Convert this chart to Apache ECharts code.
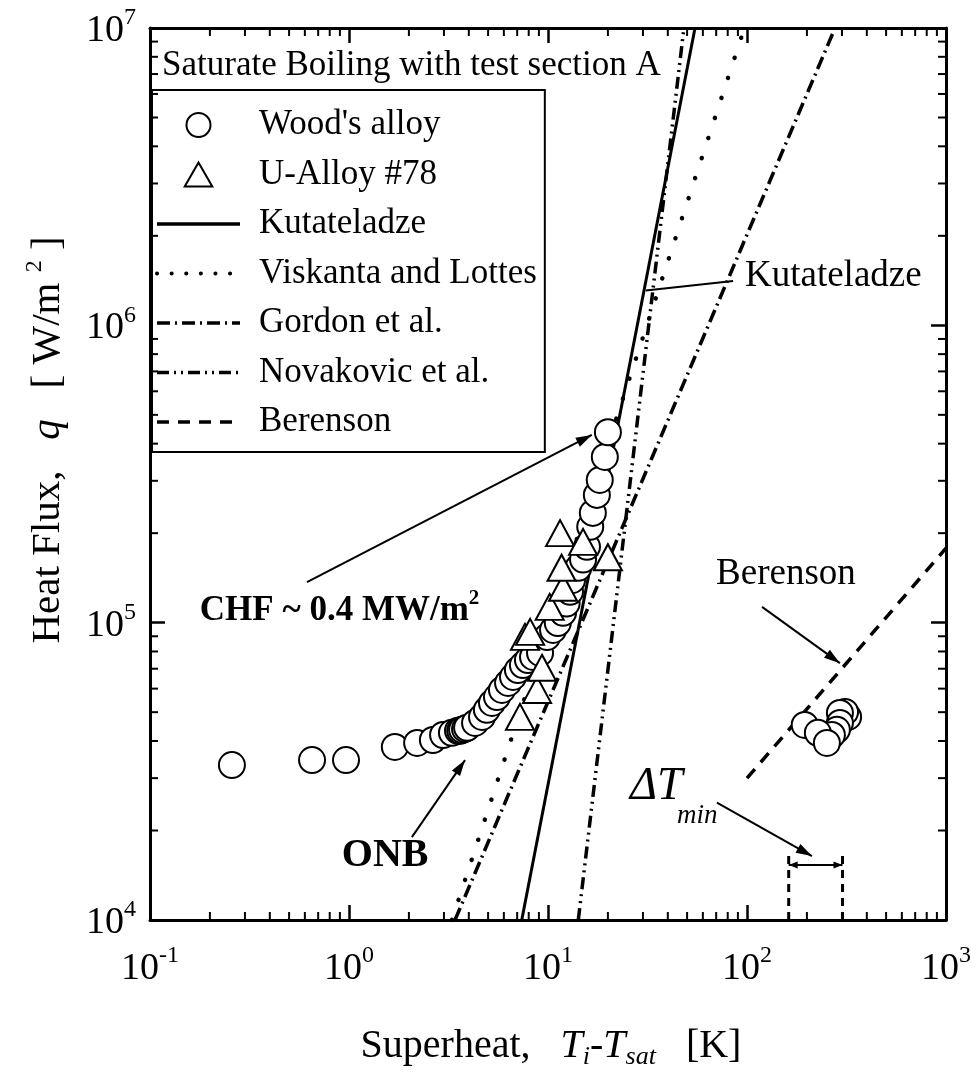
<!DOCTYPE html>
<html><head><meta charset="utf-8">
<script src="https://cdn.jsdelivr.net/npm/echarts@6/dist/echarts.min.js"></script>
<style>html,body{margin:0;padding:0;background:#fff}#c{width:977px;height:1084px}</style>
</head><body><div id="c"></div>
<script>
const FONT = '"Liberation Serif","Times New Roman",serif';

// ---- tick labels (exponents of 10) ----
const xTickExps = [-1, 0, 1, 2, 3];
const yTickExps = [4, 5, 6, 7];

// ---- Wood's alloy (circles) ----
const woodX = [0.258, 0.652, 0.966, 1.70, 2.20, 2.64, 2.97, 3.29, 3.53, 3.62, 3.70, 3.83, 3.92, 4.30, 4.66, 4.93, 5.23, 5.54, 5.87, 6.30, 6.67, 7.06, 7.48, 7.93, 8.41, 9.12, 9.89, 10.6, 11.2, 11.9, 12.4, 12.9, 13.2, 14.2, 15.0, 15.7, 16.3, 16.8, 17.6, 18.2, 19.3, 20.0, 195, 322, 311, 293, 293, 283, 267, 227, 252];
const woodY = [33200, 34500, 34500, 38200, 39400, 40300, 41900, 42600, 43300, 43300, 43600, 43900, 44300, 46000, 48200, 50900, 53700, 56200, 59400, 62700, 65700, 69300, 72000, 74900, 76700, 79100, 89500, 94500, 99700, 108000, 116000, 127000, 139000, 153000, 163000, 180000, 210000, 234000, 269000, 302000, 361000, 437000, 45300, 48200, 50100, 49700, 46000, 43600, 41900, 42600, 39400];

// ---- U-Alloy #78 (triangles) ----
const uX = [7.23, 8.81, 9.33, 7.66, 8.13, 10.2, 11.9, 11.7, 11.5, 15.0, 20.0];
const uY = [48200, 59400, 70500, 89600, 93100, 113000, 131000, 153000, 200000, 187000, 166000];

// ---- correlations (end points) ----
const kutX = [7.38, 54.8];  const kutY = [1e4, 1e7];
const visX = [3.29, 97];    const visY = [1e4, 1e7];
const gorX = [3.41, 277];   const gorY = [1e4, 1e7];
const novX = [14.2, 48.2];  const novY = [1e4, 1e7];
const berX = [100, 1000];   const berY = [30000, 178000];

// ---- Delta T_min bracket ----
const dtX = [162, 302];  const dtTopY = 16600;  const dtArrowY = 15300;

const zip = (a, b) => a.map((v, i) => [v, b[i]]);
const names = ["Wood's alloy", 'U-Alloy #78', 'Kutateladze', 'Viskanta and Lottes', 'Gordon et al.', 'Novakovic et al.', 'Berenson'];

// minor tick positions (2..9 x 10^k)
const minorX = [], minorY = [];
for (let k = -1; k <= 2; k++) for (let m = 2; m <= 9; m++) minorX.push([m * Math.pow(10, k), 1e4]);
for (let k = 4; k <= 6; k++) for (let m = 2; m <= 9; m++) minorY.push([1, m * Math.pow(10, k)]);

const chart = echarts.init(document.getElementById('c'), null, {renderer: 'canvas'});

const supRich = {
  b: {fontFamily: FONT, fontSize: 38, color: '#000', lineHeight: 44, verticalAlign: 'bottom'},
  s: {fontFamily: FONT, fontSize: 24, color: '#000', lineHeight: 16, verticalAlign: 'top'}
};
function makeFmt(exps) {
  return function (v) {
    const e = Math.round(Math.log10(v));
    return exps.indexOf(e) >= 0 ? '{b|10}{s|' + e + '}' : '';
  };
}
function axisBase(extra) {
  return Object.assign({
    type: 'log', logBase: 10,
    axisLine: {show: true, onZero: false, lineStyle: {color: '#000', width: 3}},
    axisTick: {show: true, inside: true, length: 15, lineStyle: {color: '#000', width: 2.5}},
    splitLine: {show: false}, minorTick: {show: false}, minorSplitLine: {show: false}
  }, extra);
}
function lineSeries(name, xs, ys, style) {
  return {
    name, type: 'line', data: zip(xs, ys), symbol: 'none', showSymbol: false,
    lineStyle: Object.assign({color: '#000', width: 3.5}, style),
    itemStyle: {color: '#000'}, z: 2, silent: true, clip: true, animation: false
  };
}
function tickRender(dim) {
  return function (params, api) {
    const cs = params.coordSys;
    const st = {stroke: '#000', lineWidth: 2};
    if (dim === 'x') {
      const x = api.coord([api.value(0), api.value(1)])[0];
      const yb = cs.y + cs.height, yt = cs.y;
      return {type: 'group', children: [
        {type: 'line', shape: {x1: x, y1: yb, x2: x, y2: yb - 8}, style: st},
        {type: 'line', shape: {x1: x, y1: yt, x2: x, y2: yt + 8}, style: st}
      ]};
    } else {
      const y = api.coord([api.value(0), api.value(1)])[1];
      const xl = cs.x, xr = cs.x + cs.width;
      return {type: 'group', children: [
        {type: 'line', shape: {x1: xl, y1: y, x2: xl + 8, y2: y}, style: st},
        {type: 'line', shape: {x1: xr, y1: y, x2: xr - 8, y2: y}, style: st}
      ]};
    }
  };
}

const legendData = names.map((n, i) => {
  if (i === 0) return {name: n};
  if (i === 1) return {name: n, icon: 'path://M5,0L10,8.7L0,8.7Z'};
  if (i === 3) return {name: n, itemStyle: {opacity: 0}, lineStyle: {type: [0.1, 14.5], cap: 'round', width: 4}};
  return {name: n, itemStyle: {opacity: 0}};
});

const option = {
  backgroundColor: '#fff',
  animation: false,
  grid: {left: 150, right: 31, top: 28, bottom: 164, containLabel: false, outerBoundsMode: 'none'},
  xAxis: [
    axisBase({min: 0.1, max: 1000, position: 'bottom',
      axisLabel: {show: true, margin: 24, formatter: makeFmt(xTickExps), rich: supRich, showMinLabel: true, showMaxLabel: true}}),
    axisBase({min: 0.1, max: 1000, position: 'top', axisLabel: {show: false}})
  ],
  yAxis: [
    axisBase({min: 1e4, max: 1e7, position: 'left',
      axisLabel: {show: true, margin: 14, formatter: makeFmt(yTickExps), rich: supRich, showMinLabel: true, showMaxLabel: true}}),
    axisBase({min: 1e4, max: 1e7, position: 'right', axisLabel: {show: false}})
  ],
  legend: {
    show: true, orient: 'vertical', left: 152, top: 90,
    data: legendData, selectedMode: false, symbolKeepAspect: true,
    itemWidth: 83, itemHeight: 24, itemGap: 13.5,
    padding: [17, 8, 12, 3],
    borderColor: '#000', borderWidth: 2, backgroundColor: '#fff',
    lineStyle: {width: 3.5},
    textStyle: {fontFamily: FONT, fontSize: 35, color: '#000', lineHeight: 36, padding: [0, 0, 0, 14]}
  },
  series: [
    {name: names[0], type: 'scatter', data: zip(woodX, woodY), symbol: 'circle', symbolSize: 26, symbolKeepAspect: true,
      itemStyle: {color: '#fff', borderColor: '#000', borderWidth: 2, opacity: 1}, z: 4, silent: true},
    {name: names[1], type: 'scatter', data: zip(uX, uY), symbol: 'triangle', symbolSize: [28, 26], symbolKeepAspect: true,
      itemStyle: {color: '#fff', borderColor: '#000', borderWidth: 2, opacity: 1}, z: 5, silent: true},
    lineSeries(names[2], kutX, kutY, {type: 'solid', width: 3}),
    lineSeries(names[3], visX, visY, {type: [0.1, 21], cap: 'round', width: 4.5}),
    lineSeries(names[4], gorX, gorY, {type: [13, 5, 2, 5]}),
    lineSeries(names[5], novX, novY, {type: [12, 5, 2, 5, 2, 5]}),
    lineSeries(names[6], berX, berY, {type: [12, 9]}),
    {type: 'custom', renderItem: tickRender('x'), data: minorX, silent: true, z: 6, clip: false},
    {type: 'custom', renderItem: tickRender('y'), data: minorY, silent: true, z: 6, clip: false}
  ]
};
chart.setOption(option);

// ---- annotations, anchored in data coordinates ----
const P = p => chart.convertToPixel({xAxisIndex: 0, yAxisIndex: 0}, p);
const blk = {stroke: '#000', lineWidth: 2};
const G = [];
function seg(a, b, style) {
  const pa = P(a), pb = P(b);
  G.push({type: 'line', shape: {x1: pa[0], y1: pa[1], x2: pb[0], y2: pb[1]}, style: Object.assign({}, blk, style || {}), z: 10});
  return [pa, pb];
}
function head(from, to, L, W) {
  const dx = to[0] - from[0], dy = to[1] - from[1], d = Math.hypot(dx, dy);
  const ux = dx / d, uy = dy / d, nx = -uy, ny = ux;
  G.push({type: 'polygon', shape: {points: [
    [to[0], to[1]],
    [to[0] - L * ux + W * nx, to[1] - L * uy + W * ny],
    [to[0] - L * ux - W * nx, to[1] - L * uy - W * ny]
  ]}, style: {fill: '#000'}, z: 10});
}
function arrow(a, b) { const s = seg(a, b); head(s[0], s[1], 16, 5); }
function label(p, text, rich, align, extra) {
  const q = P(p);
  G.push(Object.assign({type: 'text', x: q[0], y: q[1], z: 11,
    style: {text, rich, align: align || 'left', verticalAlign: 'middle', fill: '#000', fontFamily: FONT}}, extra || {}));
}

// Kutateladze callout
seg([31.0, 1.31e6], [85.1, 1.41e6]);
label([97.7, 1.46e6], '{t|Kutateladze}', {t: {fontFamily: FONT, fontSize: 37, color: '#000'}});
// CHF
arrow([0.615, 137000], [16.6, 428000]);
label([0.178, 112000], '{b|CHF ~ 0.4 MW/m}{s|2}', {
  b: {fontFamily: FONT, fontSize: 35, fontWeight: 'bold', color: '#000', lineHeight: 40, verticalAlign: 'bottom'},
  s: {fontFamily: FONT, fontSize: 21, fontWeight: 'bold', color: '#000', lineHeight: 14, verticalAlign: 'top'}});
// ONB
arrow([2.07, 19000], [3.83, 34500]);
label([1.52, 16400], '{t|ONB}', {t: {fontFamily: FONT, fontSize: 40, fontWeight: 'bold', color: '#000'}}, 'center');
// Berenson
arrow([119, 113000], [293, 73100]);
label([157, 146000], '{t|Berenson}', {t: {fontFamily: FONT, fontSize: 37, color: '#000'}}, 'center');
// Delta T min
arrow([70.6, 24800], [212, 16400]);
label([25.8, 28000], '{t|ΔT}', {t: {fontFamily: FONT, fontSize: 46, fontStyle: 'italic', color: '#000'}});
label([44.5, 22400], '{t|min}', {t: {fontFamily: FONT, fontSize: 27, fontStyle: 'italic', color: '#000'}});
seg([dtX[0], 1e4], [dtX[0], dtTopY], {lineWidth: 3, lineDash: [8, 6]});
seg([dtX[1], 1e4], [dtX[1], dtTopY], {lineWidth: 3, lineDash: [8, 6]});
{
  const s = seg([dtX[0], dtArrowY], [dtX[1], dtArrowY]);
  head(s[0], s[1], 9, 3.5); head(s[1], s[0], 9, 3.5);
}

// titles
G.push({type: 'text', x: 162, y: 66, z: 11, style: {text: 'Saturate Boiling with test section A', fontFamily: FONT, fontSize: 35, fill: '#000', align: 'left', verticalAlign: 'middle'}});
G.push({type: 'text', x: 551, y: 1048, z: 11, style: {
  text: '{r|Superheat,   }{i|T}{u|i}{r|-}{i|T}{u|sat}{r|   [K]}', align: 'center', verticalAlign: 'middle',
  rich: {
    r: {fontFamily: FONT, fontSize: 40, color: '#000', lineHeight: 44, verticalAlign: 'top'},
    i: {fontFamily: FONT, fontSize: 40, fontStyle: 'italic', color: '#000', lineHeight: 44, verticalAlign: 'top'},
    u: {fontFamily: FONT, fontSize: 26, fontStyle: 'italic', color: '#000', lineHeight: 26, padding: [30, 0, 0, 0], verticalAlign: 'bottom'}
  }}});
G.push({type: 'text', x: 46, y: 440, rotation: Math.PI / 2, z: 11, style: {
  text: '{r|Heat Flux,   }{i|q}{r|   [ W/m }{s|2}{r| ]}', align: 'center', verticalAlign: 'middle',
  rich: {
    r: {fontFamily: FONT, fontSize: 41, color: '#000', lineHeight: 46, verticalAlign: 'bottom'},
    i: {fontFamily: FONT, fontSize: 41, fontStyle: 'italic', color: '#000', lineHeight: 46, verticalAlign: 'bottom'},
    s: {fontFamily: FONT, fontSize: 24, color: '#000', lineHeight: 16, verticalAlign: 'top'}
  }}});

chart.setOption({graphic: G});
</script></body></html>
